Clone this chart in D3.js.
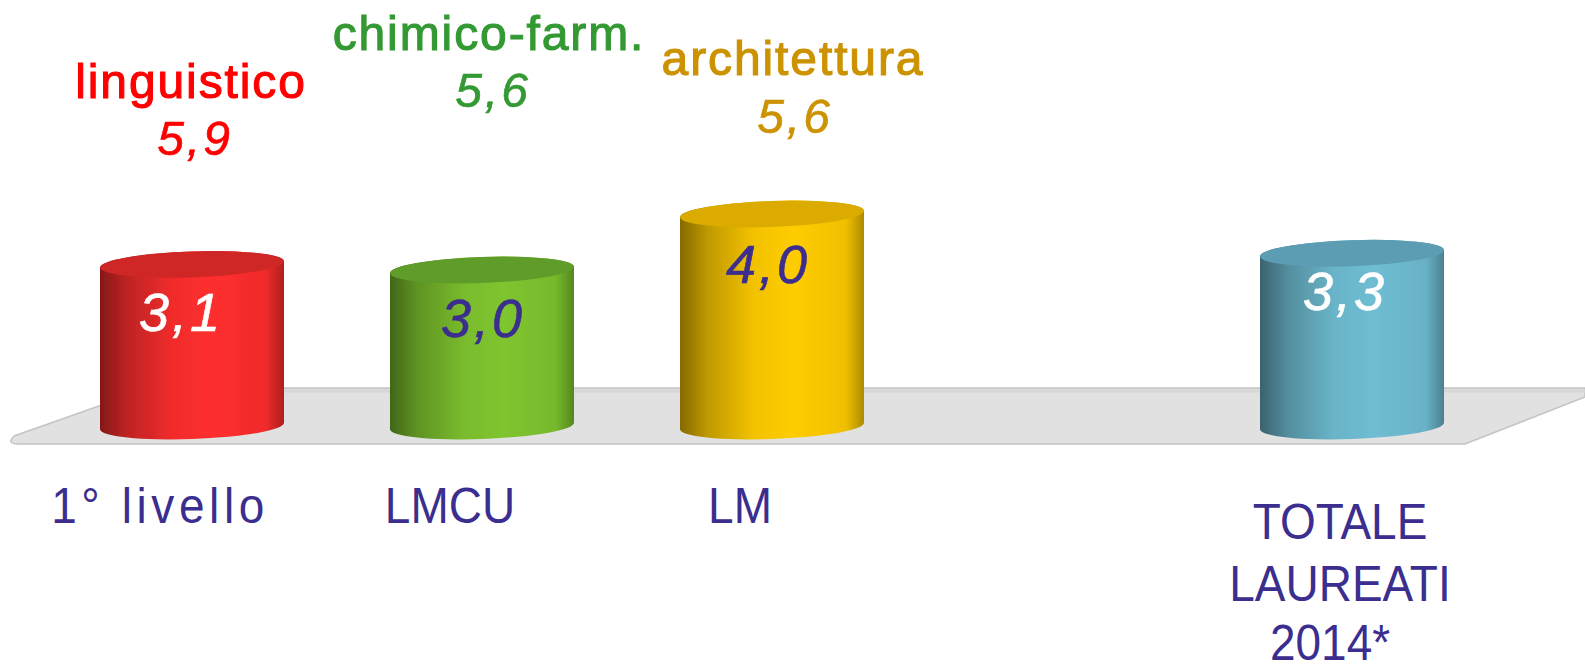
<!DOCTYPE html>
<html>
<head>
<meta charset="utf-8">
<title>Laureati 2014</title>
<script src="https://d3js.org/d3.v7.min.js"></script>
<style>
    html, body { margin: 0; padding: 0; background: #fff; overflow: hidden; }
    text { font-family: "Liberation Sans", sans-serif; }
</style>
</head>
<body>
<div id="figure"></div>
<script>
// chart values
const categories = ["1°\u00a0livello", "LMCU", "LM", "", "TOTALE LAUREATI 2014*"];
const values = [3.1, 3.0, 4.0, null, 3.3];
const valueLabels = ["3,1", "3,0", "4,0", "", "3,3"];
const bestNames = ["linguistico", "chimico-farm.", "architettura"];
const bestValues = ["5,9", "5,6", "5,6"];

// colours
const bodyColors = ["#ff2e2e", "#7fc52f", "#ffcc00", null, "#6fbdd3"];
const topColors = ["#cf2727", "#5f9c2b", "#dcab00", null, "#5b9db4"];
const labelColors = ["#fff", "#3b2e8f", "#3b2e8f", null, "#fff"];
const bestColors = ["#ff0000", "#339933", "#cc9200"];
const indigo = "#3b2e8f";

const width = 1585, height = 671;
const rx = 92, ry = 13, tilt = -2, baseLift = 12;

const svg = d3.select("#figure")
    .append("svg")
    .attr("width", width)
    .attr("height", height);

const x = d3.scaleBand()
    .domain(d3.range(categories.length))
    .range([47, 1497])
    .paddingInner(0.3655)
    .paddingOuter(0.18275);

const y = d3.scaleLinear().domain([0, 4]).range([438, 214]);

const defs = svg.append("defs");
const soft = defs.append("filter").attr("id", "soft");
soft.append("feGaussianBlur").attr("stdDeviation", 0.5);

// floor
svg.append("path")
    .attr("d", "M1585,388 L150,388 L14,436 Q6,444 18,444 L1465,444 L1585,397 Z")
    .attr("fill", "#e1e1e1")
    .attr("stroke", "#c4c4c4")
    .attr("stroke-width", 1.5);
svg.append("path")
    .attr("d", "M1585,391 L280,391")
    .attr("stroke", "#d6d6d6")
    .attr("stroke-width", 3);

const idx = d3.range(categories.length).filter(i => values[i] !== null);

// one horizontal gradient per cylinder
idx.forEach(i => {
    const base = bodyColors[i];
    const shade = d3.interpolateRgb(base, "#000");
    const g = defs.append("linearGradient").attr("id", "grad" + i);
    [[0, shade(0.48)], [0.15, shade(0.25)], [0.4, shade(0.05)], [0.62, base], [0.9, shade(0.06)], [1, shade(0.32)]]
        .forEach(s => g.append("stop").attr("offset", s[0]).attr("stop-color", s[1]));
});

// tilted ellipse ends
const dy = rx * Math.sin(tilt * Math.PI / 180);
function cylinder(i) {
    const cx = x(i) + x.bandwidth() / 2;
    const t = y(values[i]), b = y(0) - baseLift;
    return `M${cx - rx},${t - dy} A${rx},${ry} ${tilt} 0 1 ${cx + rx},${t + dy}`
        + ` L${cx + rx},${b + dy} A${rx},${ry} ${tilt} 0 1 ${cx - rx},${b - dy} Z`;
}

const bars = svg.append("g").attr("filter", "url(#soft)")
    .selectAll("g").data(idx).join("g");

bars.append("path")
    .attr("d", cylinder)
    .attr("fill", i => `url(#grad${i})`);

bars.append("ellipse")
    .attr("cx", i => x(i) + x.bandwidth() / 2)
    .attr("cy", i => y(values[i]))
    .attr("rx", rx)
    .attr("ry", ry)
    .attr("transform", i => `rotate(${tilt} ${x(i) + x.bandwidth() / 2} ${y(values[i])})`)
    .attr("fill", i => topColors[i]);

// value inside each cylinder, hand placed as in the slide
const innerDx = [-11, 1, -4, 0, -7];
const innerDy = [67, 67, 69, 0, 57];
svg.selectAll(".inner").data(idx).join("text")
    .attr("class", "inner")
    .attr("x", i => x(i) + x.bandwidth() / 2 + innerDx[i])
    .attr("y", i => y(values[i]) + innerDy[i])
    .attr("text-anchor", "middle")
    .attr("font-size", 54)
    .attr("font-style", "italic")
    .attr("letter-spacing", 3)
    .attr("stroke", i => labelColors[i])
    .attr("stroke-width", 0.6)
    .attr("fill", i => labelColors[i])
    .text(i => valueLabels[i]);

// best group above the first three cylinders
const bestNameY = [98, 50, 75];
const bestValueY = [155, 107, 133];
const bestX = [191, 489, 793];
const bestValueX = [195, 493, 795];
svg.selectAll(".bestName").data(bestNames).join("text")
    .attr("class", "bestName")
    .attr("x", (d, i) => bestX[i])
    .attr("y", (d, i) => bestNameY[i])
    .attr("text-anchor", "middle")
    .attr("font-size", 48)
    .attr("letter-spacing", 1.9)
    .attr("stroke", (d, i) => bestColors[i])
    .attr("stroke-width", 1.1)
    .attr("fill", (d, i) => bestColors[i])
    .text(d => d);
svg.selectAll(".bestValue").data(bestValues).join("text")
    .attr("class", "bestValue")
    .attr("x", (d, i) => bestValueX[i])
    .attr("y", (d, i) => bestValueY[i])
    .attr("text-anchor", "middle")
    .attr("font-size", 48)
    .attr("font-style", "italic")
    .attr("letter-spacing", 3)
    .attr("stroke", (d, i) => bestColors[i])
    .attr("stroke-width", 0.6)
    .attr("fill", (d, i) => bestColors[i])
    .text(d => d);

// category labels, squeezed a little since the slide font is narrow
const squeeze = 0.92;
const xAxis = d3.axisBottom(x).tickSize(0).tickFormat(i => categories[i]);
const axisG = svg.append("g")
    .attr("transform", "translate(0,510)")
    .call(xAxis);
axisG.select(".domain").remove();
axisG.selectAll("text")
    .attr("font-size", 50)
    .attr("fill", indigo)
    .attr("font-family", "Liberation Sans")
    .attr("dy", 0)
    .attr("transform", `scale(${squeeze},1)`)
    .attr("x", -32 / squeeze)
    .attr("y", 13)
    .attr("letter-spacing", i => i === 0 ? 5 : 0)
    .each(function (i) {
        const el = d3.select(this);
        if (i !== 4) return;
        // last label sits lower, on three lines
        el.text(null);
        const lineY = [29, 91, 150];
        ["TOTALE", "LAUREATI", "2014*"].forEach((w, k) => {
            el.append("tspan")
                .attr("x", (k === 2 ? -22 : -12) / squeeze)
                .attr("y", lineY[k])
                .text(w);
        });
    });
</script>
</body>
</html>
